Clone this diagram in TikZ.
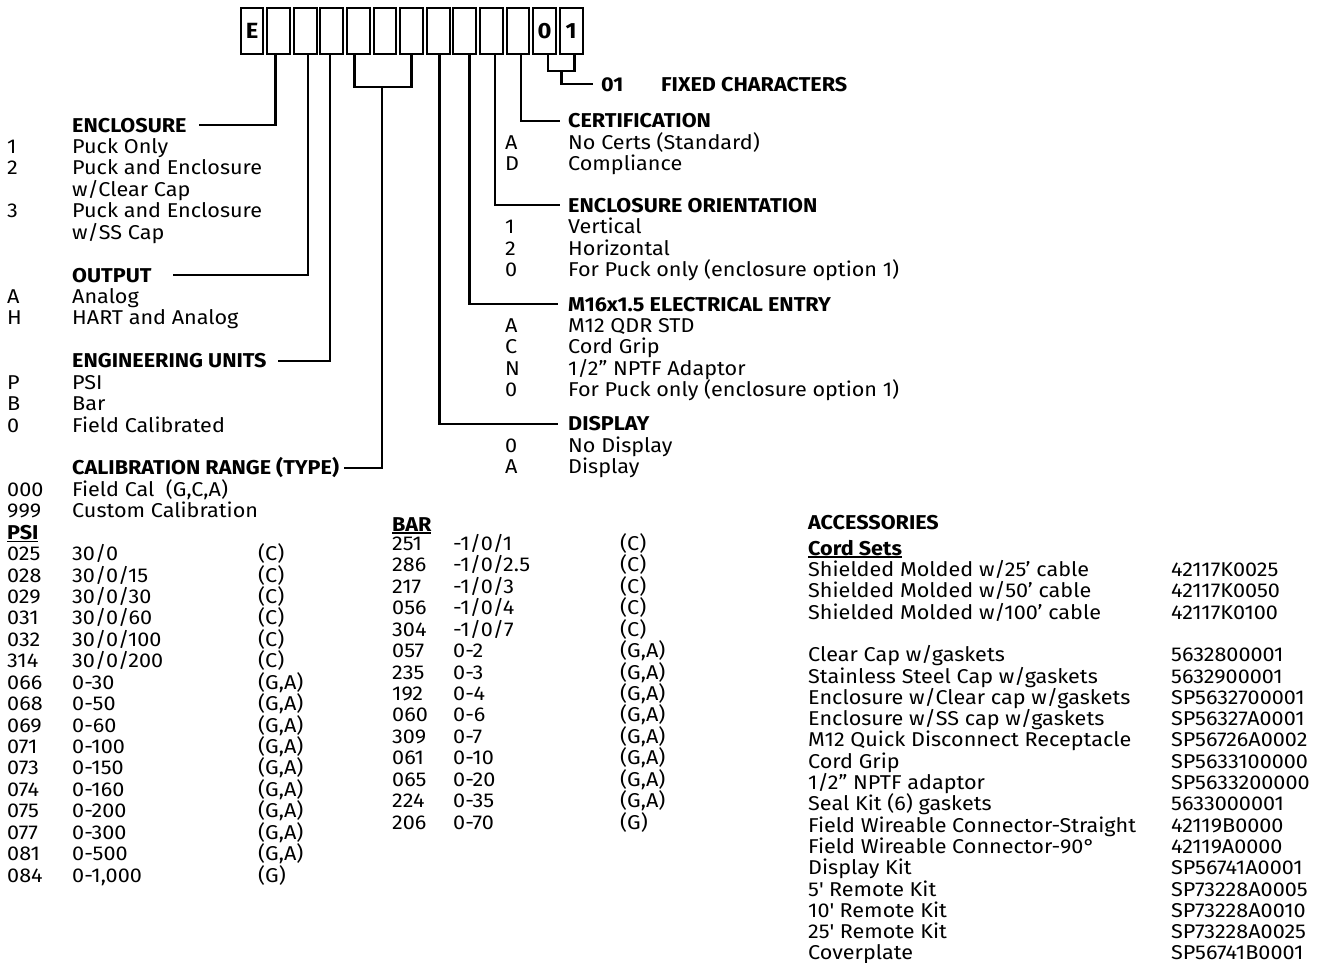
\documentclass[tikz,border=0pt]{standalone}
\usepackage{fontspec}
\setmainfont{Fira Sans}[FakeStretch=1.08]
\usetikzlibrary{calc}
\newcommand{\ulin}[1]{\vtop{\hbox{#1}\kern1pt\hrule height 1.6pt}}

\begin{document}
\begin{tikzpicture}[x=1pt,y=-1pt,
  font=\fontsize{20}{21.4}\selectfont,
  txt/.style={anchor=base west,inner sep=0pt},
  head/.style={txt,font=\fontsize{20}{21.4}\selectfont\bfseries,text height=14pt,text depth=0pt},
  digitbox/.style={draw,line width=2pt,minimum width=22.7pt,minimum height=46pt,inner sep=0pt,
    font=\fontsize{22}{24}\selectfont\bfseries},
  link/.style={line width=2.3pt}]

\useasboundingbox (0,0) rectangle (1327,962);

% model number boxes
\foreach \i/\ch in {1/E,2/{},3/{},4/{},5/{},6/{},7/{},8/{},9/{},10/{},11/{},12/0,13/1}
  \node[digitbox] (b\i) at (252+26.6*\i-26.6,31.3) {\ch};

% left column
\node[head] (enc) at (72,132) {ENCLOSURE};
\node[head] (out) at (72,282) {OUTPUT};
\node[head] (eng) at (72,367.7) {ENGINEERING UNITS};
\node[head] (cal) at (72,474.9) {CALIBRATION RANGE (TYPE)};

\foreach \r/\cd in {1/1,2/2,4/3,8/A,9/H,12/P,13/B,14/0,17/000,18/999}
  \node[txt] (lc\r) at (7,132+21.43*\r) {\cd};
\foreach \r/\ds in {1/{Puck Only},2/{Puck and Enclosure},3/{w/Clear Cap},
    4/{Puck and Enclosure},5/{w/SS Cap},8/Analog,9/{HART and Analog},
    12/PSI,13/Bar,14/{Field Calibrated},17/{Field Cal~ (G,C,A)},18/{Custom Calibration}}
  \node[txt] (ld\r) at (72,132+21.43*\r) {\ds};

% psi ranges
\node[head] (psi) at (7,539.2) {\ulin{PSI}};
\foreach \cd/\rg/\ty [count=\i from 0] in {025/{30/0}/(C),028/{30/0/15}/(C),
    029/{30/0/30}/(C),031/{30/0/60}/(C),032/{30/0/100}/(C),314/{30/0/200}/(C),
    066/0-30/{(G,A)},068/0-50/{(G,A)},069/0-60/{(G,A)},071/0-100/{(G,A)},
    073/0-150/{(G,A)},074/0-160/{(G,A)},075/0-200/{(G,A)},077/0-300/{(G,A)},
    081/0-500/{(G,A)},084/{0-1,000}/(G)}
{
  \node[txt] (pc\i) at (7,560.6+21.43*\i) {\cd};
  \node[txt] (pr\i) at (72,560.6+21.43*\i) {\rg};
  \node[txt] (pt\i) at (258,560.6+21.43*\i) {\ty};
}

% bar ranges
\node[head] (bar) at (392,531) {\ulin{BAR}};
\foreach \cd/\rg/\ty [count=\i from 0] in {251/{-1/0/1}/(C),286/{-1/0/2.5}/(C),
    217/{-1/0/3}/(C),056/{-1/0/4}/(C),304/{-1/0/7}/(C),057/0-2/{(G,A)},
    235/0-3/{(G,A)},192/0-4/{(G,A)},060/0-6/{(G,A)},309/0-7/{(G,A)},
    061/0-10/{(G,A)},065/0-20/{(G,A)},224/0-35/{(G,A)},206/0-70/(G)}
{
  \node[txt] (bc\i) at (392,550.5+21.43*\i) {\cd};
  \node[txt] (br\i) at (453,550.5+21.43*\i) {\rg};
  \node[txt] (bt\i) at (620,550.5+21.43*\i) {\ty};
}

% right column
\node[head] (fixc) at (601,91) {01};
\node[head] (fixt) at (661,91) {FIXED CHARACTERS};
\node[head] (cert) at (568,127.7) {CERTIFICATION};
\node[head] (orient) at (568,212.3) {ENCLOSURE ORIENTATION};
\node[head] (entry) at (568,311) {M16x1.5 ELECTRICAL ENTRY};
\node[head] (disp) at (568,430.7) {DISPLAY};

\foreach \y/\cd/\ds [count=\i] in {149.1/A/{No Certs (Standard)},170.6/D/Compliance,
    233.7/1/Vertical,255.1/2/Horizontal,276.6/0/{For Puck only (enclosure option 1)},
    332.4/A/{M12 QDR STD},353.9/C/{Cord Grip},375.3/N/{1/2” NPTF Adaptor},
    396.7/0/{For Puck only (enclosure option 1)},452.1/0/{No Display},473.5/A/Display}
{
  \node[txt] (rc\i) at (505,\y) {\cd};
  \node[txt] (rd\i) at (568,\y) {\ds};
}

% accessories
\node[head] (acc) at (808,529) {ACCESSORIES};
\node[head] (cords) at (808,555) {\ulin{Cord Sets}};
\foreach \r/\ds/\pn in {0/{Shielded Molded w/25’ cable}/42117K0025,
    1/{Shielded Molded w/50’ cable}/42117K0050,2/{Shielded Molded w/100’ cable}/42117K0100,
    4/{Clear Cap w/gaskets}/5632800001,5/{Stainless Steel Cap w/gaskets}/5632900001,
    6/{Enclosure w/Clear cap w/gaskets}/SP5632700001,7/{Enclosure w/SS cap w/gaskets}/SP56327A0001,
    8/{M12 Quick Disconnect Receptacle}/SP56726A0002,9/{Cord Grip}/SP5633100000,
    10/{1/2” NPTF adaptor}/SP5633200000,11/{Seal Kit (6) gaskets}/5633000001,
    12/{Field Wireable Connector-Straight}/42119B0000,13/{Field Wireable Connector-90°}/42119A0000,
    14/{Display Kit}/SP56741A0001,15/{5\textquotesingle\ Remote Kit}/SP73228A0005,
    16/{10\textquotesingle\ Remote Kit}/SP73228A0010,17/{25\textquotesingle\ Remote Kit}/SP73228A0025,
    18/Coverplate/SP56741B0001}
{
  \node[txt] (ad\r) at (808,576.5+21.3*\r) {\ds};
  \node[txt] (ap\r) at (1171,576.5+21.3*\r) {\pn};
}

% connectors
\draw[link] ([xshift=-3pt]b2.south) |- ([xshift=12pt]enc.east);
\draw[link] ([xshift=2.6pt]b3.south) |- ([xshift=21pt]out.east);
\draw[link] ([xshift=-2pt]b4.south) |- ([xshift=11pt]eng.east);
\draw[link] ([xshift=-4pt]b5.south) -- ++(0,32) -| (b7.south);
\draw[link] ([xshift=-3pt,yshift=-32pt]b6.south) |- ([xshift=5pt]cal.east);
\draw[link] ([xshift=1.3pt]b8.south) |- ([xshift=-10pt]disp.west);
\draw[link] ([xshift=4.6pt]b9.south) |- ([xshift=-10pt]entry.west);
\draw[link] ([xshift=3.4pt]b10.south) |- ([xshift=-8pt]orient.west);
\draw[link] ([xshift=2.7pt]b11.south) |- ([xshift=-8pt]cert.west);
\draw[link] ([xshift=3.7pt]b12.south) -- ++(0,16) -| ([xshift=3.3pt]b13.south);
\draw[link] ($(b12.south)!.5!(b13.south)+(3.5,16)$) |- ([xshift=-8pt]fixc.west);

\end{tikzpicture}
\end{document}
